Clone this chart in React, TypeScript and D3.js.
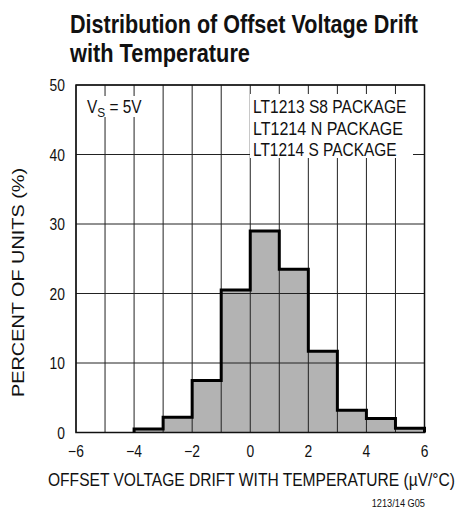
import React from "react";
import * as d3 from "d3";

const binStarts = [-4, -3, -2, -1, 0, 1, 2, 3, 4, 5];
const percents = [0.5, 2.2, 7.5, 20.5, 29, 23.5, 11.7, 3.2, 2.0, 0.6];
const xTicks = [-6, -4, -2, 0, 2, 4, 6];
const yTicks = [0, 10, 20, 30, 40, 50];
const legendLines = ["LT1213 S8 PACKAGE", "LT1214 N PACKAGE", "LT1214 S PACKAGE"];
const legendWidths = [153.5, 150, 143.5];
const titleLines = ["Distribution of Offset Voltage Drift", "with Temperature"];
const titleWidths = [348, 180];

const FONT = "'Liberation Sans', Arial, sans-serif";

export default function App() {
  const W = 458, H = 510;
  const left = 76, right = 424.5, top = 85, bottom = 432.5;
  const x = d3.scaleLinear().domain([-6, 6]).range([left, right]);
  const y = d3.scaleLinear().domain([0, 50]).range([bottom, top]);
  const gridX = d3.range(-6, 7, 1);
  const gridY = d3.range(0, 51, 10);

  const stepPts: [number, number][] = [];
  binStarts.forEach((b, i) => {
    stepPts.push([b, percents[i]]);
    stepPts.push([b + 1, percents[i]]);
  });
  const areaGen = d3
    .area<[number, number]>()
    .x((d) => x(d[0]))
    .y0(y(0))
    .y1((d) => y(d[1]));
  const lineGen = d3
    .line<[number, number]>()
    .x((d) => x(d[0]))
    .y((d) => y(d[1]));
  const outline: [number, number][] = [[binStarts[0], 0], ...stepPts, [binStarts[binStarts.length - 1] + 1, 0]];

  return (
    <svg width={W} height={H} style={{ position: "absolute", left: 0, top: 0, background: "#fff" }}>
      <rect x={0} y={0} width={W} height={H} fill="#fff" />
      {titleLines.map((t, i) => (
        <text
          key={t}
          x={70}
          y={33 + i * 29}
          fontFamily={FONT}
          fontWeight="bold"
          fontSize={25}
          fill="#111"
          textLength={titleWidths[i]}
          lengthAdjust="spacingAndGlyphs"
        >
          {t}
        </text>
      ))}
      <path d={areaGen(stepPts) || ""} fill="#b3b3b3" />
      {gridX.map((v) => (
        <line key={"gx" + v} x1={x(v)} x2={x(v)} y1={top} y2={bottom} stroke="#222" strokeWidth={1} />
      ))}
      {gridY.map((v) => (
        <line key={"gy" + v} x1={left} x2={right} y1={y(v)} y2={y(v)} stroke="#222" strokeWidth={1} />
      ))}
      <rect x={left} y={top} width={right - left} height={bottom - top} fill="none" stroke="#111" strokeWidth={1.5} />
      <path d={lineGen(outline) || ""} fill="none" stroke="#000" strokeWidth={3} strokeLinejoin="miter" />
      {/* annotation backgrounds */}
      <rect x={84} y={96} width={64} height={21} fill="#fff" />
      <rect x={250} y={94} width={163} height={64} fill="#fff" />
      <text transform="translate(87,113) scale(0.88,1)" fontFamily={FONT} fontSize={17.5} fill="#111">
        V<tspan fontSize={13.5} dy={4}>S</tspan>
        <tspan dy={-4}> = 5V</tspan>
      </text>
      {legendLines.map((t, i) => (
        <text
          key={t}
          x={253}
          y={113 + i * 21.5}
          fontFamily={FONT}
          fontSize={17.5}
          fill="#111"
          textLength={legendWidths[i]}
          lengthAdjust="spacingAndGlyphs"
        >
          {t}
        </text>
      ))}
      {yTicks.map((v) => (
        <text
          key={"yt" + v}
          transform={`translate(65,${y(v) + 6}) scale(0.84,1)`}
          textAnchor="end"
          fontFamily={FONT}
          fontSize={16.5}
          fill="#111"
        >
          {v}
        </text>
      ))}
      {xTicks.map((v) => (
        <text
          key={"xt" + v}
          transform={`translate(${x(v)},457) scale(0.84,1)`}
          textAnchor="middle"
          fontFamily={FONT}
          fontSize={16.5}
          fill="#111"
        >
          {v < 0 ? "\u2212" + Math.abs(v) : String(v)}
        </text>
      ))}
      <text
        transform={`translate(23.5, 282.5) rotate(-90)`}
        textAnchor="middle"
        fontFamily={FONT}
        fontSize={17}
        fill="#111"
        textLength={229}
        lengthAdjust="spacingAndGlyphs"
      >
        PERCENT OF UNITS (%)
      </text>
      <text x={48} y={486} fontFamily={FONT} fontSize={18} fill="#111" textLength={407} lengthAdjust="spacingAndGlyphs">
        OFFSET VOLTAGE DRIFT WITH TEMPERATURE (µV/°C)
      </text>
      <text x={371.7} y={506.5} fontFamily={FONT} fontSize={11.5} fill="#111" textLength={53.3} lengthAdjust="spacingAndGlyphs">
        1213/14 G05
      </text>
    </svg>
  );
}
